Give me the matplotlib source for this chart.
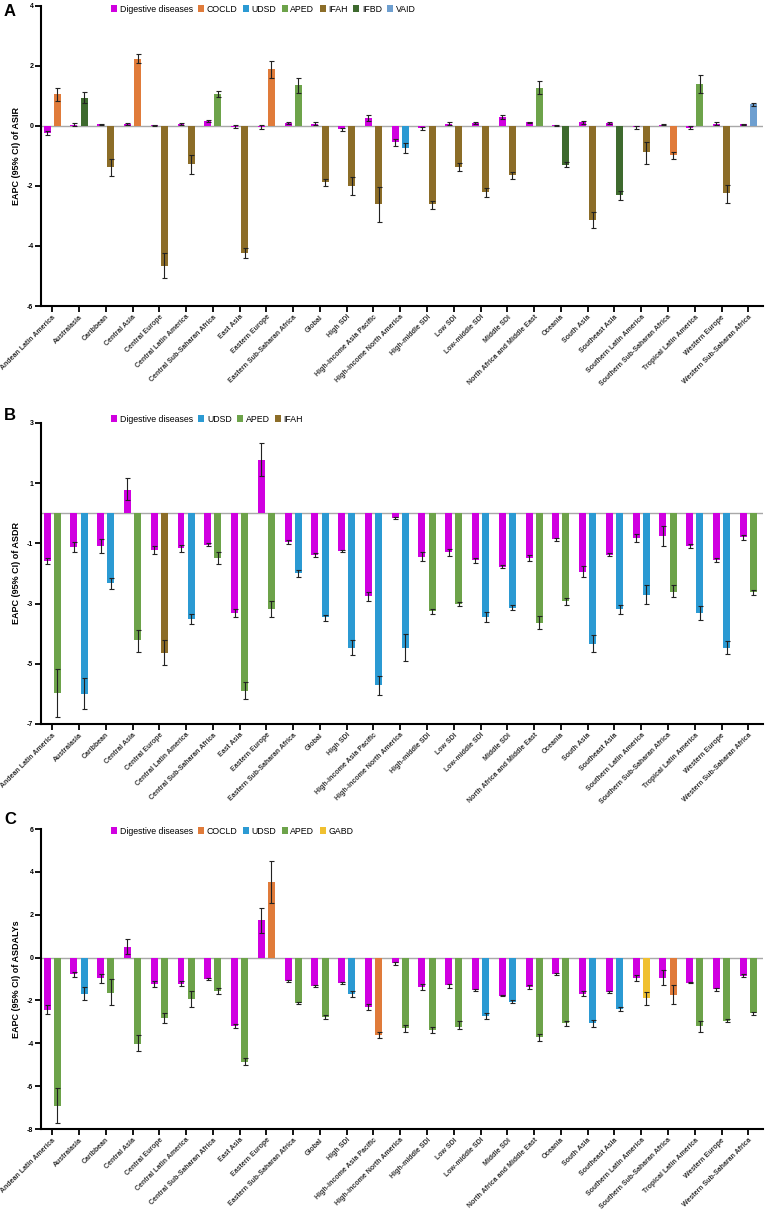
import matplotlib
matplotlib.use("Agg")
import matplotlib.pyplot as plt
from matplotlib.patches import Patch
import numpy as np

plt.rcParams['font.family'] = ['Liberation Sans', 'DejaVu Sans']
plt.rcParams['axes.unicode_minus'] = False

regions = ["Andean Latin America", "Australasia", "Caribbean", "Central Asia", "Central Europe",
           "Central Latin America", "Central Sub-Saharan Africa", "East Asia", "Eastern Europe",
           "Eastern Sub-Saharan Africa", "Global", "High SDI", "High-income Asia Pacific",
           "High-income North America", "High-middle SDI", "Low SDI", "Low-middle SDI", "Middle SDI",
           "North Africa and Middle East", "Oceania", "South Asia", "Southeast Asia",
           "Southern Latin America", "Southern Sub-Saharan Africa", "Tropical Latin America",
           "Western Europe", "Western Sub-Saharan Africa"]

colors = {"Digestive diseases": "#D000E0", "COCLD": "#E07B3A", "UDSD": "#2B9AD3",
          "APED": "#6DA34A", "IFAH": "#8C6D28", "IFBD": "#3E6A2E", "VAID": "#6E9FD0",
          "GABD": "#F0C030"}

# ---------------- Panel A: ASIR ----------------
A_dig = [-0.22, 0.05, 0.06, 0.07, 0.02, 0.08, 0.17, -0.02, -0.03, 0.10, 0.08, -0.10, 0.27, -0.53, -0.06,
         0.08, 0.11, 0.30, 0.13, 0.02, 0.14, 0.11, -0.04, 0.05, -0.05, 0.08, 0.06]
A_dig_lo = [-0.29, 0.00, 0.04, 0.05, 0.00, 0.05, 0.15, -0.08, -0.10, 0.07, 0.04, -0.17, 0.18, -0.65, -0.12,
            0.03, 0.08, 0.22, 0.11, 0.00, 0.08, 0.08, -0.10, 0.03, -0.10, 0.05, 0.05]
A_dig_hi = [-0.15, 0.10, 0.08, 0.09, 0.04, 0.11, 0.19, 0.05, 0.02, 0.12, 0.12, -0.05, 0.37, -0.42, -0.02,
            0.14, 0.13, 0.36, 0.15, 0.04, 0.18, 0.13, 0.00, 0.07, 0.00, 0.13, 0.07]
A_cat = ['COCLD', 'IFBD', 'IFAH', 'COCLD', 'IFAH', 'IFAH', 'APED', 'IFAH', 'COCLD', 'APED', 'IFAH', 'IFAH',
         'IFAH', 'UDSD', 'IFAH', 'IFAH', 'IFAH', 'IFAH', 'APED', 'IFBD', 'IFAH', 'IFBD', 'IFAH', 'COCLD',
         'APED', 'IFAH', 'VAID']
A_oth = [1.05, 0.93, -1.38, 2.24, -4.65, -1.28, 1.06, -4.24, 1.89, 1.36, -1.86, -1.99, -2.60, -0.73, -2.61,
         -1.37, -2.21, -1.64, 1.27, -1.29, -3.12, -2.29, -0.88, -0.97, 1.41, -2.24, 0.72]
A_oth_lo = [0.83, 0.75, -1.67, 2.10, -5.05, -1.60, 0.97, -4.40, 1.60, 1.10, -2.00, -2.30, -3.20, -0.90, -2.75,
            -1.50, -2.36, -1.76, 1.05, -1.38, -3.40, -2.45, -1.26, -1.10, 1.10, -2.55, 0.66]
A_oth_hi = [1.25, 1.12, -1.10, 2.40, -4.23, -0.98, 1.15, -4.07, 2.18, 1.60, -1.75, -1.70, -2.03, -0.57, -2.50,
            -1.24, -2.08, -1.52, 1.49, -1.20, -2.87, -2.15, -0.53, -0.85, 1.70, -1.96, 0.77]
A_legend = ["Digestive diseases", "COCLD", "UDSD", "APED", "IFAH", "IFBD", "VAID"]
A_ticks = [-6, -4, -2, 0, 2, 4]

# ---------------- Panel B: ASDR ----------------
B_dig = [-1.59, -1.13, -1.09, 0.79, -1.22, -1.16, -1.04, -3.31, 1.77, -0.96, -1.38, -1.26, -2.75, -0.16,
         -1.45, -1.30, -1.56, -1.77, -1.48, -0.86, -1.94, -1.38, -0.81, -0.77, -1.08, -1.55, -0.80]
B_dig_lo = [-1.70, -1.30, -1.32, 0.43, -1.35, -1.28, -1.10, -3.45, 1.24, -1.03, -1.45, -1.30, -2.92, -0.20,
            -1.60, -1.42, -1.64, -1.82, -1.58, -0.92, -2.10, -1.42, -0.95, -1.10, -1.14, -1.62, -0.88]
B_dig_hi = [-1.48, -0.97, -0.87, 1.16, -1.10, -1.06, -0.98, -3.17, 2.33, -0.90, -1.32, -1.22, -2.60, -0.13,
            -1.27, -1.18, -1.48, -1.73, -1.40, -0.82, -1.76, -1.33, -0.70, -0.43, -1.02, -1.48, -0.73]
B_cat = ['APED', 'UDSD', 'UDSD', 'APED', 'IFAH', 'UDSD', 'APED', 'APED', 'APED', 'UDSD', 'UDSD', 'UDSD',
         'UDSD', 'UDSD', 'APED', 'APED', 'UDSD', 'UDSD', 'APED', 'APED', 'UDSD', 'UDSD', 'UDSD', 'APED',
         'UDSD', 'UDSD', 'APED']
B_oth = [-5.97, -5.99, -2.33, -4.22, -4.64, -3.50, -1.48, -5.90, -3.18, -1.98, -3.46, -4.46, -5.72, -4.47,
         -3.25, -3.02, -3.43, -3.13, -3.63, -2.92, -4.33, -3.19, -2.70, -2.60, -3.30, -4.47, -2.62]
B_oth_lo = [-6.77, -6.50, -2.52, -4.60, -5.05, -3.68, -1.67, -6.18, -3.45, -2.10, -3.58, -4.70, -6.03, -4.90,
            -3.35, -3.07, -3.60, -3.22, -3.84, -3.03, -4.60, -3.33, -3.00, -2.78, -3.53, -4.68, -2.70]
B_oth_hi = [-5.18, -5.48, -2.14, -3.87, -4.20, -3.33, -1.30, -5.60, -2.90, -1.87, -3.38, -4.22, -5.40, -4.02,
            -3.17, -2.96, -3.27, -3.04, -3.40, -2.82, -4.03, -3.04, -2.39, -2.37, -3.08, -4.23, -2.55]
B_legend = ["Digestive diseases", "UDSD", "APED", "IFAH"]
B_ticks = [-7, -5, -3, -1, 1, 3]

# ---------------- Panel C: ASDALYs ----------------
C_dig = [-2.43, -0.78, -0.97, 0.50, -1.24, -1.24, -0.98, -3.20, 1.75, -1.07, -1.32, -1.18, -2.30, -0.25,
         -1.36, -1.30, -1.52, -1.77, -1.38, -0.77, -1.68, -1.60, -0.95, -0.95, -1.18, -1.48, -0.85]
C_dig_lo = [-2.65, -0.90, -1.20, 0.15, -1.38, -1.34, -1.05, -3.30, 1.17, -1.12, -1.38, -1.23, -2.43, -0.33,
            -1.53, -1.42, -1.57, -1.80, -1.46, -0.80, -1.80, -1.64, -1.07, -1.30, -1.20, -1.55, -0.92]
C_dig_hi = [-2.20, -0.65, -0.75, 0.86, -1.10, -1.10, -0.93, -3.10, 2.33, -1.03, -1.28, -1.15, -2.15, -0.20,
            -1.22, -1.22, -1.47, -1.74, -1.30, -0.73, -1.55, -1.57, -0.83, -0.60, -1.15, -1.42, -0.78]
C_cat = ['APED', 'UDSD', 'APED', 'APED', 'APED', 'APED', 'APED', 'APED', 'COCLD', 'APED', 'APED', 'UDSD',
         'COCLD', 'APED', 'APED', 'APED', 'UDSD', 'UDSD', 'APED', 'APED', 'UDSD', 'UDSD', 'GABD', 'COCLD',
         'APED', 'APED', 'APED']
C_oth = [-6.92, -1.68, -1.63, -4.02, -2.82, -1.93, -1.55, -4.85, 3.55, -2.12, -2.77, -1.70, -3.60, -3.30,
         -3.38, -3.25, -2.72, -2.05, -3.72, -3.07, -3.07, -2.40, -1.88, -1.75, -3.20, -2.95, -2.60]
C_oth_lo = [-7.72, -2.00, -2.20, -4.38, -3.06, -2.30, -1.72, -5.02, 2.57, -2.15, -2.85, -1.85, -3.73, -3.45,
            -3.50, -3.32, -2.86, -2.10, -3.90, -3.20, -3.22, -2.50, -2.20, -2.15, -3.45, -3.00, -2.68]
C_oth_hi = [-6.10, -1.35, -1.02, -3.62, -2.58, -1.55, -1.40, -4.68, 4.53, -2.09, -2.70, -1.55, -3.47, -3.15,
            -3.25, -2.95, -2.60, -2.00, -3.55, -2.95, -2.90, -2.30, -1.60, -1.30, -2.98, -2.88, -2.53]
C_legend = ["Digestive diseases", "COCLD", "UDSD", "APED", "GABD"]
C_ticks = [-8, -6, -4, -2, 0, 2, 4, 6]

W, H = 767, 1211
fig = plt.figure(figsize=(W / 100, H / 100), dpi=100)

panels = [
    dict(letter="A", top=6, bot=306, dig=A_dig, dlo=A_dig_lo, dhi=A_dig_hi, cat=A_cat, oth=A_oth,
         olo=A_oth_lo, ohi=A_oth_hi, leg=A_legend, ticks=A_ticks, ylabel="EAPC (95% CI) of ASIR",
         legy=9, lety=11),
    dict(letter="B", top=423, bot=724, dig=B_dig, dlo=B_dig_lo, dhi=B_dig_hi, cat=B_cat, oth=B_oth,
         olo=B_oth_lo, ohi=B_oth_hi, leg=B_legend, ticks=B_ticks, ylabel="EAPC (95% CI) of ASDR",
         legy=419, lety=415),
    dict(letter="C", top=829, bot=1129, dig=C_dig, dlo=C_dig_lo, dhi=C_dig_hi, cat=C_cat, oth=C_oth,
         olo=C_oth_lo, ohi=C_oth_hi, leg=C_legend, ticks=C_ticks, ylabel="EAPC (95% CI) of ASDALYs",
         legy=831, lety=820),
]

left_px, right_px = 41, 763
x = np.arange(len(regions))
bw = 0.26
off = 0.19

for p in panels:
    ax = fig.add_axes([left_px / W, 1 - p["bot"] / H, (right_px - left_px) / W, (p["bot"] - p["top"]) / H])
    dig = np.array(p["dig"]); oth = np.array(p["oth"])
    dlo = np.array(p["dlo"]); dhi = np.array(p["dhi"])
    olo = np.array(p["olo"]); ohi = np.array(p["ohi"])
    ax.axhline(0, color="#A8A8A8", lw=1.0, zorder=1)
    ax.bar(x - off, dig, width=bw, color=colors["Digestive diseases"], zorder=2)
    ax.bar(x + off, oth, width=bw, color=[colors[c] for c in p["cat"]], zorder=2)
    ax.errorbar(x - off, dig, yerr=[dig - dlo, dhi - dig], fmt="none", ecolor="#222222",
                elinewidth=0.8, capsize=1.8, capthick=0.8, zorder=3)
    ax.errorbar(x + off, oth, yerr=[oth - olo, ohi - oth], fmt="none", ecolor="#222222",
                elinewidth=0.8, capsize=1.8, capthick=0.8, zorder=3)
    ticks = p["ticks"]
    ax.set_ylim(ticks[0], ticks[-1])
    ax.set_yticks(ticks)
    ax.set_yticklabels([str(t) for t in ticks], fontsize=5, fontweight="bold")
    ax.set_xlim(-0.42, 26.55)
    ax.set_xticks(x)
    ax.set_xticklabels(regions, rotation=45, ha="right", rotation_mode="anchor",
                       fontsize=5, fontweight="bold", color="#333333")
    for s in ["top", "right"]:
        ax.spines[s].set_visible(False)
    for s in ["left", "bottom"]:
        ax.spines[s].set_linewidth(1.5)
    ax.tick_params(axis="both", direction="out", length=4, width=1.3, pad=1.5)
    ax.set_ylabel(p["ylabel"], fontsize=6.5, fontweight="bold")
    ax.yaxis.set_label_coords((21 - left_px) / (right_px - left_px), 0.5)
    handles = [Patch(facecolor=colors[k], label=k) for k in p["leg"]]
    fig.legend(handles=handles, loc="center left", bbox_to_anchor=(111 / W, 1 - p["legy"] / H),
               ncol=len(handles), frameon=False, fontsize=6.3, handlelength=0.7, handleheight=0.7,
               handletextpad=0.3, columnspacing=0.6, borderpad=0, borderaxespad=0)
    fig.text(4 / W, 1 - p["lety"] / H, p["letter"], fontsize=12, fontweight="bold", va="center", ha="left")

fig.savefig("out.png", dpi=100)
